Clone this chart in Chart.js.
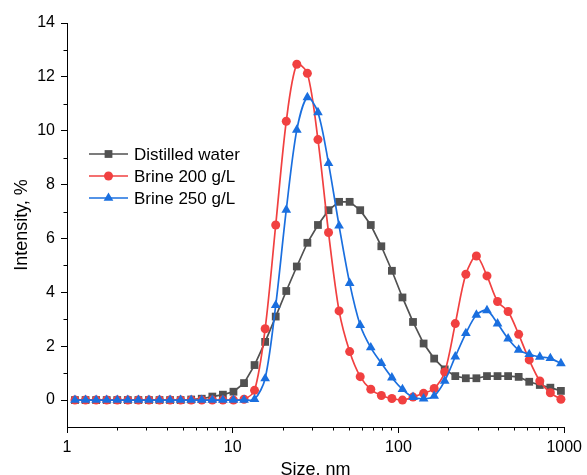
<!DOCTYPE html>
<html>
<head>
<meta charset="utf-8">
<title>Size distribution</title>
<script src="https://cdn.jsdelivr.net/npm/chart.js@4/dist/chart.umd.min.js"></script>
<style>
  html, body { margin: 0; padding: 0; background: #fff; }
  canvas { display: block; }
</style>
</head>
<body>
<canvas id="sizeChart" width="587" height="475"></canvas>
<script>
// bin centres, nm
var sizes = [1.117, 1.294, 1.499, 1.736, 2.01, 2.328, 2.696, 3.122, 3.615, 4.187,
  4.849, 5.615, 6.503, 7.531, 8.721, 10.1, 11.7, 13.54, 15.69, 18.17,
  21.04, 24.36, 28.21, 32.67, 37.84, 43.82, 50.75, 58.77, 68.06, 78.82,
  91.28, 105.7, 122.4, 141.8, 164.2, 190.1, 220.2, 255.0, 295.3, 342.0,
  396.1, 458.7, 531.2, 615.1, 712.4, 825.0, 955.4];

// intensity, %
var distilledWater = [0, 0, 0, 0, 0, 0, 0, 0, 0, 0,
  0, 0.02, 0.05, 0.13, 0.2, 0.31, 0.63, 1.3, 2.16, 3.1,
  4.05, 4.96, 5.84, 6.5, 7.05, 7.36, 7.36, 7.05, 6.5, 5.71,
  4.8, 3.81, 2.9, 2.1, 1.54, 1.14, 0.89, 0.81, 0.81, 0.89,
  0.89, 0.89, 0.86, 0.68, 0.56, 0.46, 0.34];
var brine200 = [0, 0, 0, 0, 0, 0, 0, 0, 0, 0,
  0, 0, 0, 0, 0, 0, 0.03, 0.36, 2.65, 6.5,
  10.35, 12.47, 12.13, 9.67, 6.22, 3.31, 1.8, 0.87, 0.4, 0.17,
  0.06, 0, 0.11, 0.25, 0.43, 1.04, 2.84, 4.67, 5.35, 4.61,
  3.66, 3.29, 2.44, 1.49, 0.71, 0.27, 0.03];
var brine250 = [0, 0, 0, 0, 0, 0, 0, 0, 0, 0,
  0, 0, 0, 0, 0, 0, 0, 0.03, 0.8, 3.52,
  7.06, 10.03, 11.24, 10.68, 8.79, 6.47, 4.34, 2.78, 1.95, 1.37,
  0.83, 0.4, 0.11, 0.05, 0.15, 0.71, 1.61, 2.48, 3.16, 3.33,
  2.84, 2.28, 1.86, 1.7, 1.6, 1.55, 1.36];

var seriesNames = ["Distilled water", "Brine 200 g/L", "Brine 250 g/L"];
var xTicks = [1, 10, 100, 1000];
var yTicks = [0, 2, 4, 6, 8, 10, 12, 14];

var FONT = "'Liberation Sans', Arial, sans-serif";

function pts(arr) {
  return sizes.map(function (s, i) { return { x: s, y: arr[i] }; });
}

// minor ticks + legend with line and marker
var extras = {
  id: "extras",
  afterDraw: function (chart) {
    var ctx = chart.ctx, xs = chart.scales.x, ys = chart.scales.y;
    ctx.save();
    ctx.strokeStyle = "#000";
    ctx.lineWidth = 1;
    ctx.beginPath();
    for (var d = 1; d < 1000; d *= 10) {
      for (var m = 2; m <= 9; m++) {
        var px = Math.round(xs.getPixelForValue(m * d)) + 0.5;
        ctx.moveTo(px, xs.top);
        ctx.lineTo(px, xs.top + 3.5);
      }
    }
    for (var v = 1; v < 14; v += 2) {
      var py = Math.round(ys.getPixelForValue(v)) + 0.5;
      ctx.moveTo(ys.right, py);
      ctx.lineTo(ys.right - 3.5, py);
    }
    ctx.stroke();

    var rowY = [154, 176, 198];
    chart.data.datasets.forEach(function (ds, i) {
      var y = rowY[i];
      ctx.strokeStyle = ds.borderColor;
      ctx.lineWidth = ds.borderWidth;
      ctx.beginPath();
      ctx.moveTo(89, y);
      ctx.lineTo(128, y);
      ctx.stroke();
      ctx.fillStyle = ds.pointBackgroundColor;
      ctx.strokeStyle = ds.pointBackgroundColor;
      Chart.helpers.drawPoint(ctx, { pointStyle: ds.pointStyle, radius: ds.pointRadius, borderWidth: 0, rotation: 0 }, 108.5, y);
      ctx.fillStyle = "#000";
      ctx.font = "17px " + FONT;
      ctx.textAlign = "left";
      ctx.textBaseline = "middle";
      ctx.fillText(ds.label, 134, y + 1);
    });
    ctx.restore();
  }
};

function line(label, arr, color, style, r, order, tension) {
  return {
    label: label, data: pts(arr), order: order,
    borderColor: color, borderWidth: 1.7, tension: tension,
    pointStyle: style, pointRadius: r, pointHoverRadius: r,
    pointBackgroundColor: color, pointBorderColor: color, pointBorderWidth: 0,
    fill: false
  };
}

new Chart(document.getElementById("sizeChart"), {
  type: "line",
  data: {
    datasets: [
      line(seriesNames[0], distilledWater, "#515151", "rect", 5.5, 2, 0),
      line(seriesNames[1], brine200, "#F14040", "circle", 4.5, 1, 0.3),
      line(seriesNames[2], brine250, "#1A6FDF", "triangle", 5.6, 0, 0.3)
    ]
  },
  options: {
    responsive: false,
    animation: false,
    clip: false,
    layout: { padding: { top: 23, right: 22, left: 0, bottom: 0 } },
    plugins: { legend: { display: false }, tooltip: { enabled: false } },
    scales: {
      x: {
        type: "logarithmic", min: 1, max: 1000,
        afterBuildTicks: function (s) { s.ticks = xTicks.map(function (v) { return { value: v }; }); },
        afterFit: function (s) { s.height = 48; },
        grid: { drawOnChartArea: false, drawTicks: true, tickLength: 6, tickColor: "#000" },
        border: { display: true, color: "#000", width: 1 },
        ticks: { color: "#000", font: { family: FONT, size: 16 }, padding: 5, maxRotation: 0, autoSkip: false,
          callback: function (v) { return String(v); } },
        title: { display: true, text: "Size, nm", color: "#000", font: { family: FONT, size: 18 }, padding: { top: 0, bottom: -6 } }
      },
      y: {
        min: -1, max: 14,
        afterBuildTicks: function (s) { s.ticks = yTicks.map(function (v) { return { value: v }; }); },
        afterFit: function (s) { s.width = 67; },
        grid: { drawOnChartArea: false, drawTicks: true, tickLength: 6, tickColor: "#000" },
        border: { display: true, color: "#000", width: 1 },
        ticks: { color: "#000", font: { family: FONT, size: 16 }, padding: 6,
          callback: function (v) { return String(v); } },
        title: { display: true, text: "Intensity, %", color: "#000", font: { family: FONT, size: 18 }, padding: { top: 11, bottom: 0 } }
      }
    }
  },
  plugins: [extras]
});
</script>
</body>
</html>
